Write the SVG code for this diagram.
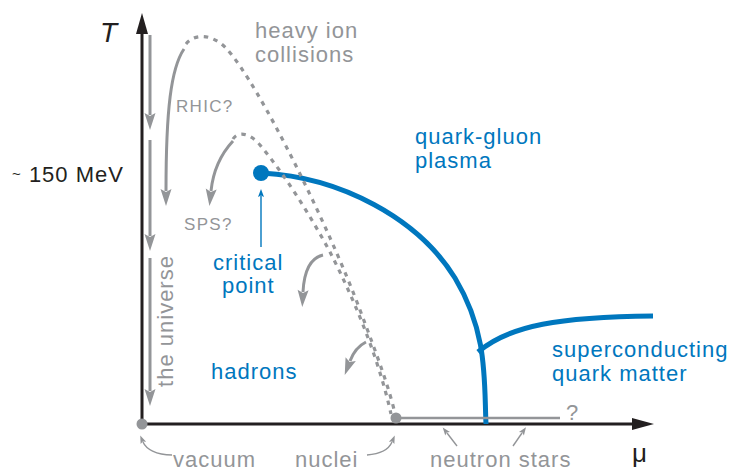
<svg xmlns="http://www.w3.org/2000/svg" width="733" height="471" viewBox="0 0 733 471">
<style>
text{font-family:"Liberation Sans",Arial,sans-serif;}
.g{fill:#939598;font-size:22px;letter-spacing:1px;}
.gs{fill:#939598;font-size:17px;letter-spacing:1.3px;}
.b{fill:#0077be;font-size:22px;letter-spacing:1px;}
.k{fill:#231f20;}
.ga{fill:none;stroke:#939598;stroke-width:3;}
.gt{fill:none;stroke:#939598;stroke-width:1.4;}
.dash{fill:none;stroke:#939598;stroke-width:3.2;stroke-dasharray:4.5 5.5;}
.bl{fill:none;stroke:#0077be;stroke-width:5;}
</style>
<defs>
<marker id="gh" markerUnits="userSpaceOnUse" markerWidth="20" markerHeight="14" refX="2" refY="0" viewBox="0 -7 20 14" orient="auto" overflow="visible">
<path d="M0,-5.5 L17,0 L0,5.5 L3,0 Z" fill="#939598"/>
</marker>
<marker id="ghs" markerUnits="userSpaceOnUse" markerWidth="10" markerHeight="8" refX="1" refY="0" viewBox="0 -4 10 8" orient="auto" overflow="visible">
<path d="M0,-3 L8,0 L0,3 L1.5,0 Z" fill="#939598"/>
</marker>
<marker id="bhs" markerUnits="userSpaceOnUse" markerWidth="10" markerHeight="8" refX="1" refY="0" viewBox="0 -4 10 8" orient="auto" overflow="visible">
<path d="M0,-3 L8,0 L0,3 L1.5,0 Z" fill="#0077be"/>
</marker>
</defs>

<g id="axes">
<line x1="142" y1="424" x2="142" y2="30" stroke="#231f20" stroke-width="3"/>
<path d="M136,34 L142,13 L148,34 Z" fill="#231f20"/>
<line x1="142" y1="424" x2="636" y2="424" stroke="#231f20" stroke-width="3"/>
<path d="M632,418 L654,424 L632,430 Z" fill="#231f20"/>
<text x="100" y="42" class="k" font-size="28" font-style="italic">T</text>
<text x="632" y="462" class="k" font-size="26">μ</text>
<text x="12" y="182" class="k" font-size="22" letter-spacing="1"><tspan font-size="15" dy="-3">~</tspan><tspan dy="3"> 150 MeV</tspan></text>
</g>

<g id="phase-boundary">
<path class="bl" d="M262,173 C 340,177 418,218 455,278 C 488,333 484,380 486,424"/>
<path class="bl" d="M478,352 C 510,325 560,317 653,316"/>
</g>

<g id="critical-point">
<circle cx="261" cy="173" r="8" fill="#0077be"/>
<text x="213" y="270" class="b">critical</text>
<text x="222" y="293" class="b">point</text>
</g>

<g id="trajectories">
<path class="dash" d="M186,44 C 195,33 212,34 226,48 C 260,85 330,230 360,310 C 378,358 390,390 396,418"/>
<path class="dash" d="M233,139 C 238,131 250,133 260,145 C 285,175 310,215 330,252 C 352,295 378,355 391,414"/>
<line x1="396" y1="418" x2="560" y2="418" stroke="#939598" stroke-width="2.5"/>
<circle cx="396" cy="418" r="5.5" fill="#939598"/>
<circle cx="142" cy="424" r="5.5" fill="#939598"/>
</g>

<g id="connectors">
<line class="ga" x1="150" y1="35" x2="150" y2="115" marker-end="url(#gh)"/>
<line class="ga" x1="150" y1="140" x2="150" y2="236" marker-end="url(#gh)"/>
<line class="ga" x1="150" y1="258" x2="150" y2="391" marker-end="url(#gh)"/>
<path class="ga" d="M184,49 C 171,68 166,110 166,191" marker-end="url(#gh)"/>
<path class="ga" d="M233,141 C 220,155 213,172 211,191" marker-end="url(#gh)"/>
<path class="ga" d="M323,255 C 310,258 304,272 303,292" marker-end="url(#gh)"/>
<path class="ga" d="M366,342 C 358,346 353,353 350,361" marker-end="url(#gh)"/>
<line x1="261" y1="247" x2="261" y2="196" stroke="#0077be" stroke-width="1.4" marker-end="url(#bhs)"/>
<path class="gt" d="M172,455 C 156,455 146,449 143,442" marker-end="url(#ghs)"/>
<path class="gt" d="M367,455 C 380,454 389,449 392,442" marker-end="url(#ghs)"/>
<line class="gt" x1="457" y1="446" x2="447" y2="433" marker-end="url(#ghs)"/>
<line class="gt" x1="513" y1="446" x2="522" y2="433" marker-end="url(#ghs)"/>
</g>

<g id="labels">
<text x="255" y="38" class="g">heavy ion</text>
<text x="255" y="62" class="g">collisions</text>
<text x="176" y="112" class="gs">RHIC?</text>
<text x="184" y="230" class="gs">SPS?</text>
<text transform="translate(173,321) rotate(-90)" text-anchor="middle" class="g">the universe</text>
<text x="415" y="144" class="b">quark-gluon</text>
<text x="415" y="168" class="b">plasma</text>
<text x="211" y="379" class="b">hadrons</text>
<text x="552" y="357" class="b">superconducting</text>
<text x="552" y="381" class="b">quark matter</text>
<text x="566" y="420" class="g">?</text>
<text x="173" y="467" class="g">vacuum</text>
<text x="295" y="467" class="g">nuclei</text>
<text x="430" y="467" class="g">neutron stars</text>
</g>
</svg>
